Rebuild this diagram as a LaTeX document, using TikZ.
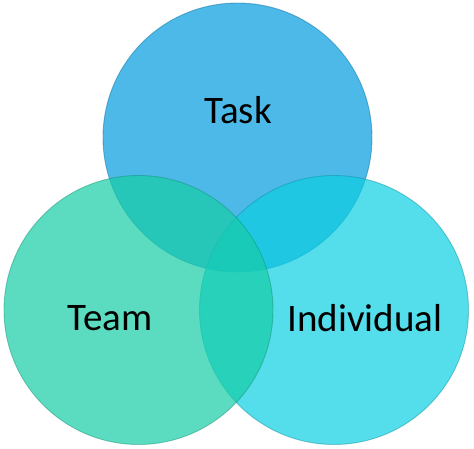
\documentclass[tikz,border=0pt]{standalone}
\usepackage{fontspec}
\setmainfont{Carlito}
\usepackage{tikz}
\definecolor{taskblue}{RGB}{2,155,222}
\definecolor{teamgreen}{RGB}{22,205,166}
\definecolor{indivcyan}{RGB}{12,206,225}

\begin{document}
\begin{tikzpicture}[x=1pt,y=1pt,
    disc/.style={fill opacity=0.7,draw opacity=0.45,line width=0.9pt},
    lbl/.style={font=\fontsize{39}{44}\selectfont,text=black,inner sep=0pt},
  ]
    \useasboundingbox (0,0) rectangle (474,448);
    % the three circles
    \filldraw[disc,fill=taskblue,draw=taskblue!70!black](237.5,310.5) circle (134.5);
    \filldraw[disc,fill=indivcyan,draw=indivcyan!70!black](334,138) circle (134.5);
    \filldraw[disc,fill=teamgreen,draw=teamgreen!70!black](138.5,138) circle (134.5);
    % labels
    \node[lbl](task) at (238,338){Task};
    \node[lbl](team) at (110,130){Team};
    \node[lbl](individual) at (365,130){Individual};
  \end{tikzpicture}
\end{document}
